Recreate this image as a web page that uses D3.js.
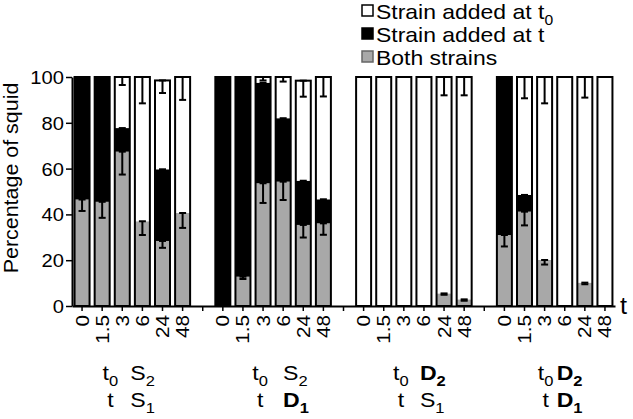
<!DOCTYPE html>
<html><head><meta charset="utf-8">
<script src="https://cdn.jsdelivr.net/npm/d3@7"></script>
<style>body{margin:0;background:#fff} svg{display:block}</style>
</head><body>
<svg id="c" width="633" height="419"></svg>
<script>
// ---- data ----
const times = ["0","1.5","3","6","24","48"];
const groups = ["S2-S1","S2-D1","D2-S1","D2-D1"];
// gray: both strains (%)
const bothStrains = [
  [46.5,45.5,67.4,37,28.4,40.6],
  [0,12.8,53.6,54.3,35.4,36.1],
  [0,0,0,0,5.5,2.9],
  [31,41.2,20.1,0,10.2,0]
];
// black: strain added at t (%)
const addedAtT = [
  [53.5,54.5,10.3,0,31.3,0],
  [100,87.2,43.9,27.7,19.3,10.5],
  [0,0,0,0,0,0],
  [69,7.3,0,0,0,0]
];
// white: strain added at t0 (%)
const addedAtT0 = [
  [0,0,22.3,63,38.8,59.4],
  [0,0,2.5,18,43.7,53.4],
  [100,100,100,100,94.5,97.1],
  [0,51.5,79.9,100,89.8,100]
];
const errBoth = [
  [5,7,10,6,3,6.5],
  [0,1,8.6,8,5.5,5],
  [0,0,0,0,0.6,0.6],
  [5,6,2,0,0.7,0]
];
const errAtT = [
  [0.5,0.5,2,0,2,0],
  [0,0.5,2,2,2,2],
  [0,0,0,0,0,0],
  [0.5,2,0,0,0,0]
];
const errAtT0 = [
  [0,0,3.5,11.5,5.5,10],
  [0,0,1.5,2,7,8.5],
  [0,0,0,0,8,8],
  [0,9.3,11.5,0,9,0]
];
const yTicks = [0,20,40,60,80,100];
const strainT0 = [["S","2",false],["S","2",false],["D","2",true],["D","2",true]];
const strainT  = [["S","1",false],["D","1",true],["S","1",false],["D","1",true]];
const legendItems = [
  {label:"Strain added at t", sub:"0", fill:"#fff", stroke:"#000"},
  {label:"Strain added at t", sub:"", fill:"#000", stroke:"#000"},
  {label:"Both strains", sub:"", fill:"#a8a8a8", stroke:"#666"}
];

// ---- layout ----
const FONT = "'Liberation Sans', Arial, Helvetica, sans-serif";
const GRAY = "#a8a8a8";
const svg = d3.select("#c");
const slots = [];
groups.forEach((g,gi)=>{ times.forEach(t=>slots.push(g+"|"+t)); if(gi<groups.length-1) slots.push("gap"+gi); });
const x = d3.scaleBand().domain(slots).range([72,615]).padding(0);
const y = d3.scaleLinear().domain([0,100]).range([306,77]);
const step = x.step();
const barW = 15;

// bars
const bars = [];
groups.forEach((g,gi)=>times.forEach((t,ti)=>{
  const a = bothStrains[gi][ti], b = addedAtT[gi][ti], c = addedAtT0[gi][ti];
  bars.push({cx: x(g+"|"+t)+step/2, segs:[
    {lo:0, hi:a, fill:GRAY, err:errBoth[gi][ti]},
    {lo:a, hi:a+b, fill:"#000", err:errAtT[gi][ti]},
    {lo:a+b, hi:a+b+c, fill:"#fff", err:errAtT0[gi][ti]}
  ], total:a+b+c});
}));

const gb = svg.append("g");
bars.forEach(d=>{
  d.segs.forEach(s=>{
    if(s.hi-s.lo<=0) return;
    gb.append("rect").attr("x",d.cx-barW/2).attr("width",barW)
      .attr("y",y(s.hi)).attr("height",y(s.lo)-y(s.hi)).attr("fill",s.fill);
  });
  gb.append("rect").attr("x",d.cx-barW/2).attr("width",barW)
    .attr("y",y(d.total)).attr("height",y(0)-y(d.total))
    .attr("fill","none").attr("stroke","#000").attr("stroke-width",2);
  d.segs.forEach(s=>{
    if(!(s.err>0) || s.hi-s.lo<=0) return;
    const y1=y(s.hi), y2=y(s.hi-s.err);
    gb.append("line").attr("x1",d.cx).attr("x2",d.cx).attr("y1",y1).attr("y2",y2)
      .attr("stroke","#000").attr("stroke-width",2);
    [y1,y2].forEach(yy=>gb.append("line").attr("x1",d.cx-3.5).attr("x2",d.cx+3.5)
      .attr("y1",yy).attr("y2",yy).attr("stroke","#000").attr("stroke-width",2));
  });
});

// axes
const ya = svg.append("g").attr("transform","translate(72,0)")
  .call(d3.axisLeft(y).tickValues(yTicks).tickSize(6).tickSizeOuter(0).tickPadding(3));
ya.select(".domain").attr("stroke-width",2);
ya.selectAll(".tick line").attr("stroke-width",1.5);
ya.selectAll(".tick text").attr("x",0).attr("dy","0.36em")
  .attr("transform","translate(-8,0) scale(1.12,1)")
  .style("font-family",FONT).style("font-size","18px").attr("fill","#000");

const xa = svg.append("g").attr("transform","translate(0,306)")
  .call(d3.axisBottom(x).tickSize(5).tickSizeOuter(0).tickFormat(s=>s.startsWith("gap")?"":s.split("|")[1]));
xa.select(".domain").attr("stroke-width",2);
xa.selectAll(".tick line").attr("stroke-width",1.5);
xa.selectAll(".tick text").attr("x",0).attr("y",0).attr("dy","0.36em")
  .attr("text-anchor","end")
  .attr("transform","translate(0,9) rotate(-90) scale(1.15,1)")
  .style("font-family",FONT).style("font-size","18px").attr("fill","#000");

// axis titles
svg.append("text").attr("transform","translate(18,178) rotate(-90) scale(1.1,1)")
  .attr("text-anchor","middle").style("font-family",FONT).style("font-size","19.5px")
  .text("Percentage of squid");
svg.append("text").attr("transform","translate(620,314) scale(1.1,1)")
  .style("font-family",FONT).style("font-size","23px").text("t");

// legend
const lg = svg.append("g");
legendItems.forEach((it,i)=>{
  const cy = 11 + i*23;
  lg.append("rect").attr("x",362).attr("y",cy-6).attr("width",11).attr("height",11)
    .attr("fill",it.fill).attr("stroke",it.stroke).attr("stroke-width",1.5);
  const t = lg.append("text").attr("transform",`translate(376,${cy+7.5}) scale(1.12,1)`)
    .style("font-family",FONT).style("font-size","20.5px");
  t.append("tspan").text(it.label);
  if(it.sub) t.append("tspan").attr("dy",6).style("font-size","14px").text(it.sub);
});

// group labels
const leftOff = [-22,-13,-13,-9];
const rightOff = [-2,10,6,2];
groups.forEach((g,gi)=>{
  const gc = x(g+"|"+times[0]) + (x(g+"|"+times[times.length-1]) + step - x(g+"|"+times[0]))/2;
  [[380,"0",strainT0[gi]],[407,"",strainT[gi]]].forEach(([by,sub,st])=>{
    const lt = svg.append("text").attr("transform",`translate(${gc+leftOff[gi]},${by}) scale(1.1,1)`)
      .attr("text-anchor","middle").style("font-family",FONT).style("font-size","21px");
    lt.append("tspan").text("t");
    if(sub) lt.append("tspan").attr("dy",6).style("font-size","15px").text(sub);
    const rt = svg.append("text").attr("transform",`translate(${gc+rightOff[gi]},${by}) scale(1.1,1)`)
      .style("font-family",FONT).style("font-size","21px").style("font-weight",st[2]?"bold":"normal");
    rt.append("tspan").text(st[0]);
    rt.append("tspan").attr("dy",6).style("font-size","15px").text(st[1]);
  });
});
</script>
</body></html>
